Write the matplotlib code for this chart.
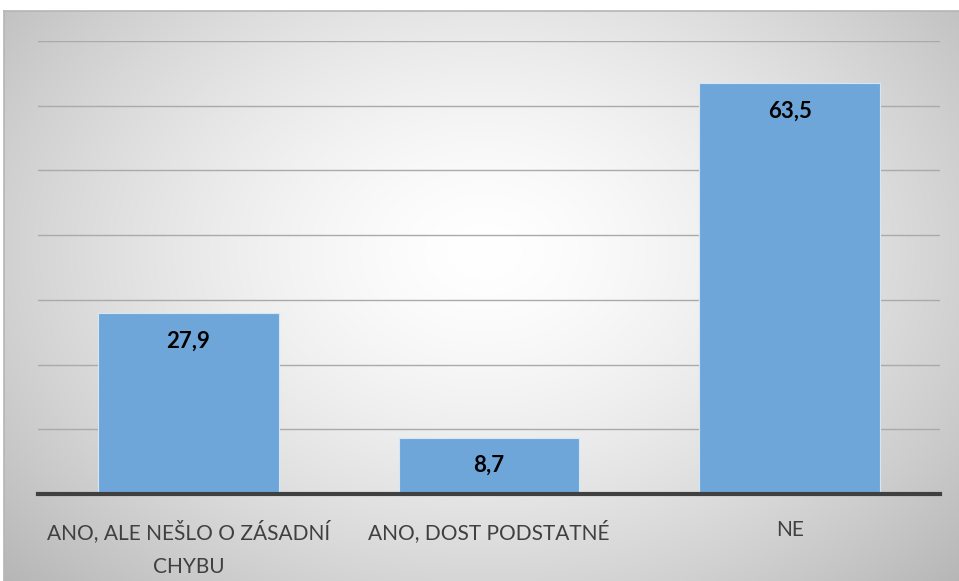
import numpy as np
import matplotlib.pyplot as plt

categories = ["ANO, ALE NEŠLO O ZÁSADNÍ\nCHYBU", "ANO, DOST PODSTATNÉ", "NE"]
values = [27.9, 8.7, 63.5]
labels = ["27,9", "8,7", "63,5"]

W, H = 959, 581
fig = plt.figure(figsize=(W / 100, H / 100), dpi=100)
fig.patch.set_facecolor("white")

# radial gradient backdrop
bg = fig.add_axes([4 / W, 0, 955 / W, 570 / H])
yy, xx = np.mgrid[0:570, 0:955]
r = np.sqrt(((xx - 480) / 580.0) ** 2 + ((yy - 240) / 430.0) ** 2)
shade = 1.0 - 0.24 * np.clip(r, 0, 1.2) ** 1.5
bg.imshow(np.dstack([shade] * 3), aspect="auto", extent=(0, 1, 0, 1))
bg.axis("off")
fig.add_artist(plt.Line2D([4 / W, 1], [570 / H, 570 / H], color="#b5b5b5", lw=1.2))
fig.add_artist(plt.Line2D([4 / W, 4 / W], [0, 570 / H], color="#b5b5b5", lw=1.2))

font = ["Lato", "DejaVu Sans"]
ax = fig.add_axes([38 / W, (H - 494) / H, 902 / W, 453 / H])
ax.patch.set_alpha(0)
x = np.arange(len(categories))
bars = ax.bar(x, values, width=0.6, color="#6FA6DA", edgecolor="#d6e6f5", linewidth=0.8, zorder=3)
ax.set_xlim(-0.5, 2.5)
ax.set_ylim(0, 70)
ax.set_yticks(np.arange(10, 71, 10))
ax.yaxis.grid(True, color="#aaaaaa", linewidth=1.0, zorder=0)
ax.tick_params(axis="y", length=0, labelleft=False)
ax.tick_params(axis="x", length=0, pad=19)
for s in ["top", "right", "left"]:
    ax.spines[s].set_visible(False)
ax.spines["bottom"].set_color("#404040")
ax.spines["bottom"].set_linewidth(3)
ax.spines["bottom"].set_zorder(4)
ax.set_xticks(x)
ax.set_xticklabels(categories, family=font, fontsize=15, color="#404040",
                   linespacing=1.85, va="top")

for b, lab in zip(bars, labels):
    ax.annotate(lab, (b.get_x() + b.get_width() / 2, b.get_height()),
                xytext=(0, -28), textcoords="offset pixels",
                ha="center", va="center", fontsize=16, fontweight="bold",
                family=font, color="black", zorder=5)

fig.savefig("out.png", dpi=100)
